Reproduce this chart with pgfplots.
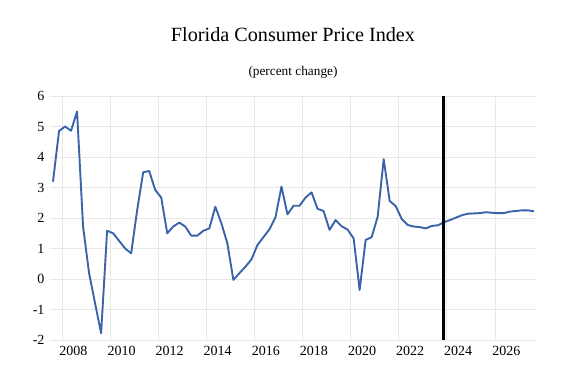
\documentclass[border=0pt]{standalone}
\usepackage{pgfplots}
\pgfplotsset{compat=1.18}
\usepackage{fontspec}
\setmainfont{Liberation Serif}
\definecolor{cpiblue}{RGB}{58,99,170}
\definecolor{gridgray}{RGB}{232,232,232}
\pgfplotstableread{
i v
0 3.19
1 4.85
2 5.00
3 4.86
4 5.49
5 1.72
6 0.19
7 -0.80
8 -1.78
9 1.58
10 1.50
11 1.25
12 1.00
13 0.84
14 2.26
15 3.50
16 3.54
17 2.92
18 2.67
19 1.50
20 1.72
21 1.85
22 1.72
23 1.42
24 1.42
25 1.58
26 1.66
27 2.37
28 1.83
29 1.17
30 -0.03
31 0.19
32 0.40
33 0.64
34 1.11
35 1.37
36 1.63
37 2.02
38 3.03
39 2.12
40 2.40
41 2.40
42 2.67
43 2.84
44 2.30
45 2.23
46 1.61
47 1.93
48 1.73
49 1.62
50 1.33
51 -0.36
52 1.28
53 1.37
54 2.04
55 3.93
56 2.56
57 2.39
58 1.97
59 1.77
60 1.72
61 1.70
62 1.66
63 1.74
64 1.76
65 1.86
66 1.93
67 2.01
68 2.09
69 2.14
70 2.15
71 2.16
72 2.19
73 2.17
74 2.16
75 2.16
76 2.21
77 2.23
78 2.25
79 2.25
80 2.22
}\cpidata
\begin{document}
\begin{tikzpicture}[x=1pt,y=1pt]
\path[use as bounding box] (0,0) rectangle (579,387);
\node[font=\fontsize{20.2}{23}\selectfont] at (293,352) {Florida Consumer Price Index};
\node[font=\fontsize{13.3}{15}\selectfont] at (293,315) {(percent change)};
\begin{axis}[
  at={(50pt,47pt)}, anchor=south west,
  scale only axis, width=487pt, height=244pt,
  xmin=-0.5, xmax=80.5, ymin=-2, ymax=6,
  ytick={-2,-1,0,1,2,3,4,5,6},
  xtick={3.4,11.4,19.4,27.4,35.4,43.4,51.4,59.4,67.4,75.4},
  xticklabels={2008,2010,2012,2014,2016,2018,2020,2022,2024,2026},
  extra x ticks={1.5,9.5,17.5,25.5,33.5,41.5,49.5,57.5,65.5,73.5},
  extra x tick labels={},
  extra x tick style={grid=major},
  xmajorgrids=false, ymajorgrids=true,
  grid style={gridgray, line width=0.8pt},
  axis line style={draw=none},
  tick style={draw=none},
  /pgf/number format/assume math mode=true,
  ticklabel style={font=\fontsize{14}{16}\selectfont},
  xticklabel style={yshift=-3pt},
  yticklabel style={xshift=-2pt},
  clip=false,
]
\addplot[cpiblue, line width=1.9pt, line join=round] table[x=i,y=v] {\cpidata};
\addplot[black, line width=2.4pt] coordinates {(64.95,-2) (64.95,6)};
\end{axis}
\end{tikzpicture}
\end{document}
